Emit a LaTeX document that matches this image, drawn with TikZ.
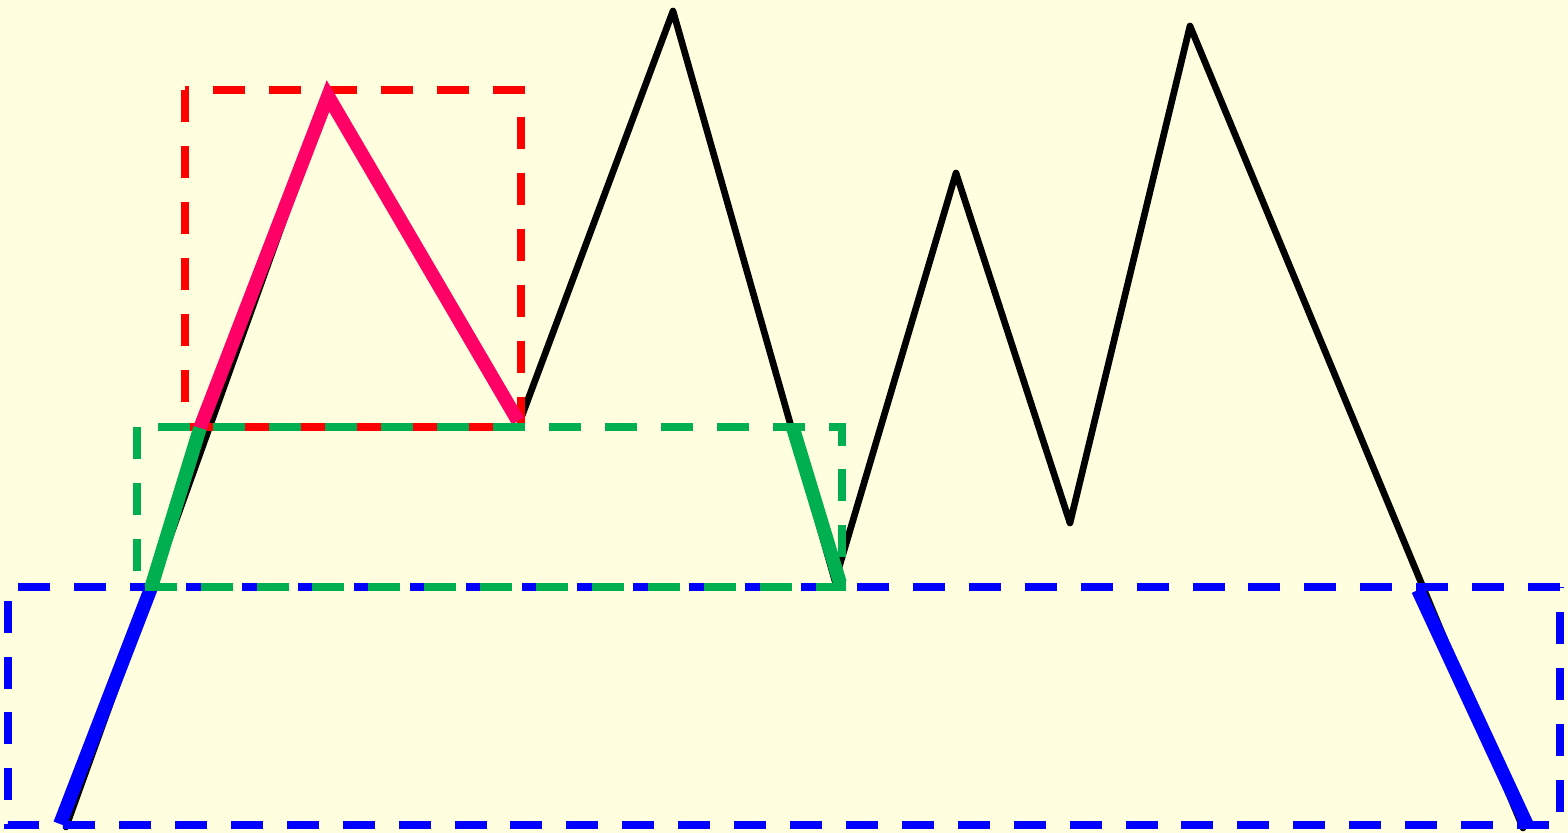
\documentclass[tikz,border=0pt]{standalone}
\usepackage{tikz}
\usetikzlibrary{
  calc,%
  positioning
}
\definecolor{paper}{HTML}{FFFFDF}
\definecolor{bandred}{HTML}{FF0000}
\definecolor{bandpink}{HTML}{FF0066}
\definecolor{bandgreen}{HTML}{00B050}
\definecolor{bandblue}{HTML}{0000FF}
\tikzset{>=latex}
\tikzset{ridge/.style={line width=1.9pt, line join=round, line cap=round}}
\tikzset{piece/.style={line width=3.9pt, line join=miter, line cap=butt}}
\tikzset{band/.style={line width=2.3pt, dash pattern=on 9.1pt off 6.8pt}}

\begin{document}
\begin{tikzpicture}[x=0.01cm, y=-0.01cm]
          \fill[paper] (0,0) rectangle (1568,833);
          \useasboundingbox (0,0) rectangle (1568,833);
          % profile
          \coordinate (p0) at (66,827);
          \coordinate (p1) at (328,97);
          \coordinate (p2) at (520,421);
          \coordinate (p3) at (673,11);
          \coordinate (p4) at (835,581);
          \coordinate (p5) at (956,173);
          \coordinate (p6) at (1070,523);
          \coordinate (p7) at (1190,26);
          \coordinate (p8) at (1523,828);
          \draw[ridge] (p0) -- (p1) -- (p2) -- (p3) -- (p4) -- (p5) -- (p6) -- (p7) -- (p8);
          % lowest band
          \draw[band, bandblue] (1560,587) -- (8,587) -- (8,825) -- (1560,825) -- cycle;
          \draw[piece, bandblue] (60,824) -- (151,588);
          \draw[piece, bandblue] (1418,590) -- (1528,827);
          % top band
          \draw[band, bandred] (185,90) -- (185,427) -- (521,427) -- (521,90) -- cycle;
          \draw[piece, bandpink] (200,428) -- (328,96) -- (518,421);
          % middle band
          \draw[band, bandgreen] (137,427) -- (137,587) -- (842,587) -- (842,427) -- cycle;
          \draw[piece, bandgreen] (151,588) -- (200,428);
          \draw[piece, bandgreen] (793,428) -- (840,583);
        \end{tikzpicture}
\end{document}
